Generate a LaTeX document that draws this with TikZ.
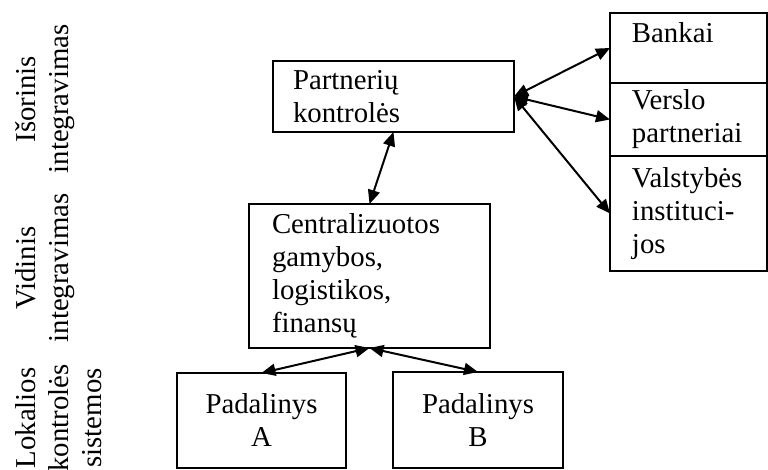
\documentclass[tikz,border=0pt]{standalone}
\usepackage{fontspec}
\setmainfont{Liberation Serif}
\usetikzlibrary{positioning, arrows.meta}

\begin{document}
\begin{tikzpicture}[x=0.5pt, y=-0.5pt,
    every node/.style={font=\fontsize{14.4}{16.5}\selectfont},
    box/.style={draw, line width=1pt, outer sep=0pt, inner ysep=0pt},
    lbox/.style={box, align=left, inner xsep=10pt},
    side/.style={rotate=90, anchor=north, align=center, inner sep=0pt},
    link/.style={{Triangle[length=7pt,width=6pt]}-{Triangle[length=7pt,width=6pt]}, line width=1pt}
    ]

    \useasboundingbox (0,0) rectangle (768,470);

    % Side labels
    \node[side] (lokal) at (15,418) {Lokalios\\kontrolės\\sistemos};
    \node[side] (vidin) at (15,268) {Vidinis\\integravimas};
    \node[side] (isor) at (15,99) {Išorinis\\integravimas};

    % Create the boxes
    \node[lbox, text width=100.5pt, minimum height=35.5pt] (part) at (393.5,96.5) {Partnerių\\kontrolės};
    \node[lbox, inner xsep=11.5pt, text width=97.5pt, minimum height=72pt] (central) at (369.5,276) {Centralizuotos\\gamybos,\\logistikos,\\finansų};
    \node[box, align=center, minimum width=84.5pt, minimum height=47.5pt] (padA) at (261.5,420.5) {Padalinys\\A};
    \node[box, align=center, minimum width=85pt, minimum height=48pt] (padB) at (478,420) {Padalinys\\B};

    \node[lbox, inner xsep=11pt, text width=56.5pt, text height=15pt, text depth=20pt] (bank) at (688.5,48) {Bankai};
    \node[lbox, inner xsep=11pt, text width=56.5pt, minimum height=36.5pt, below=0pt of bank] (versl) {Verslo\\partneriai};
    \node[lbox, inner xsep=11pt, text width=56.5pt, minimum height=57.5pt, below=0pt of versl] (valst) {Valstybės\\instituci-\\jos};

    % Arrows
    \draw[link] (part.south) -- (central.north);

    \foreach \t in {padA,padB}
    \draw[link] (central.south) -- (\t.north);

    \foreach \t in {bank,versl,valst}
    \draw[link] (part.east) -- (\t.west);

\end{tikzpicture}
\end{document}
